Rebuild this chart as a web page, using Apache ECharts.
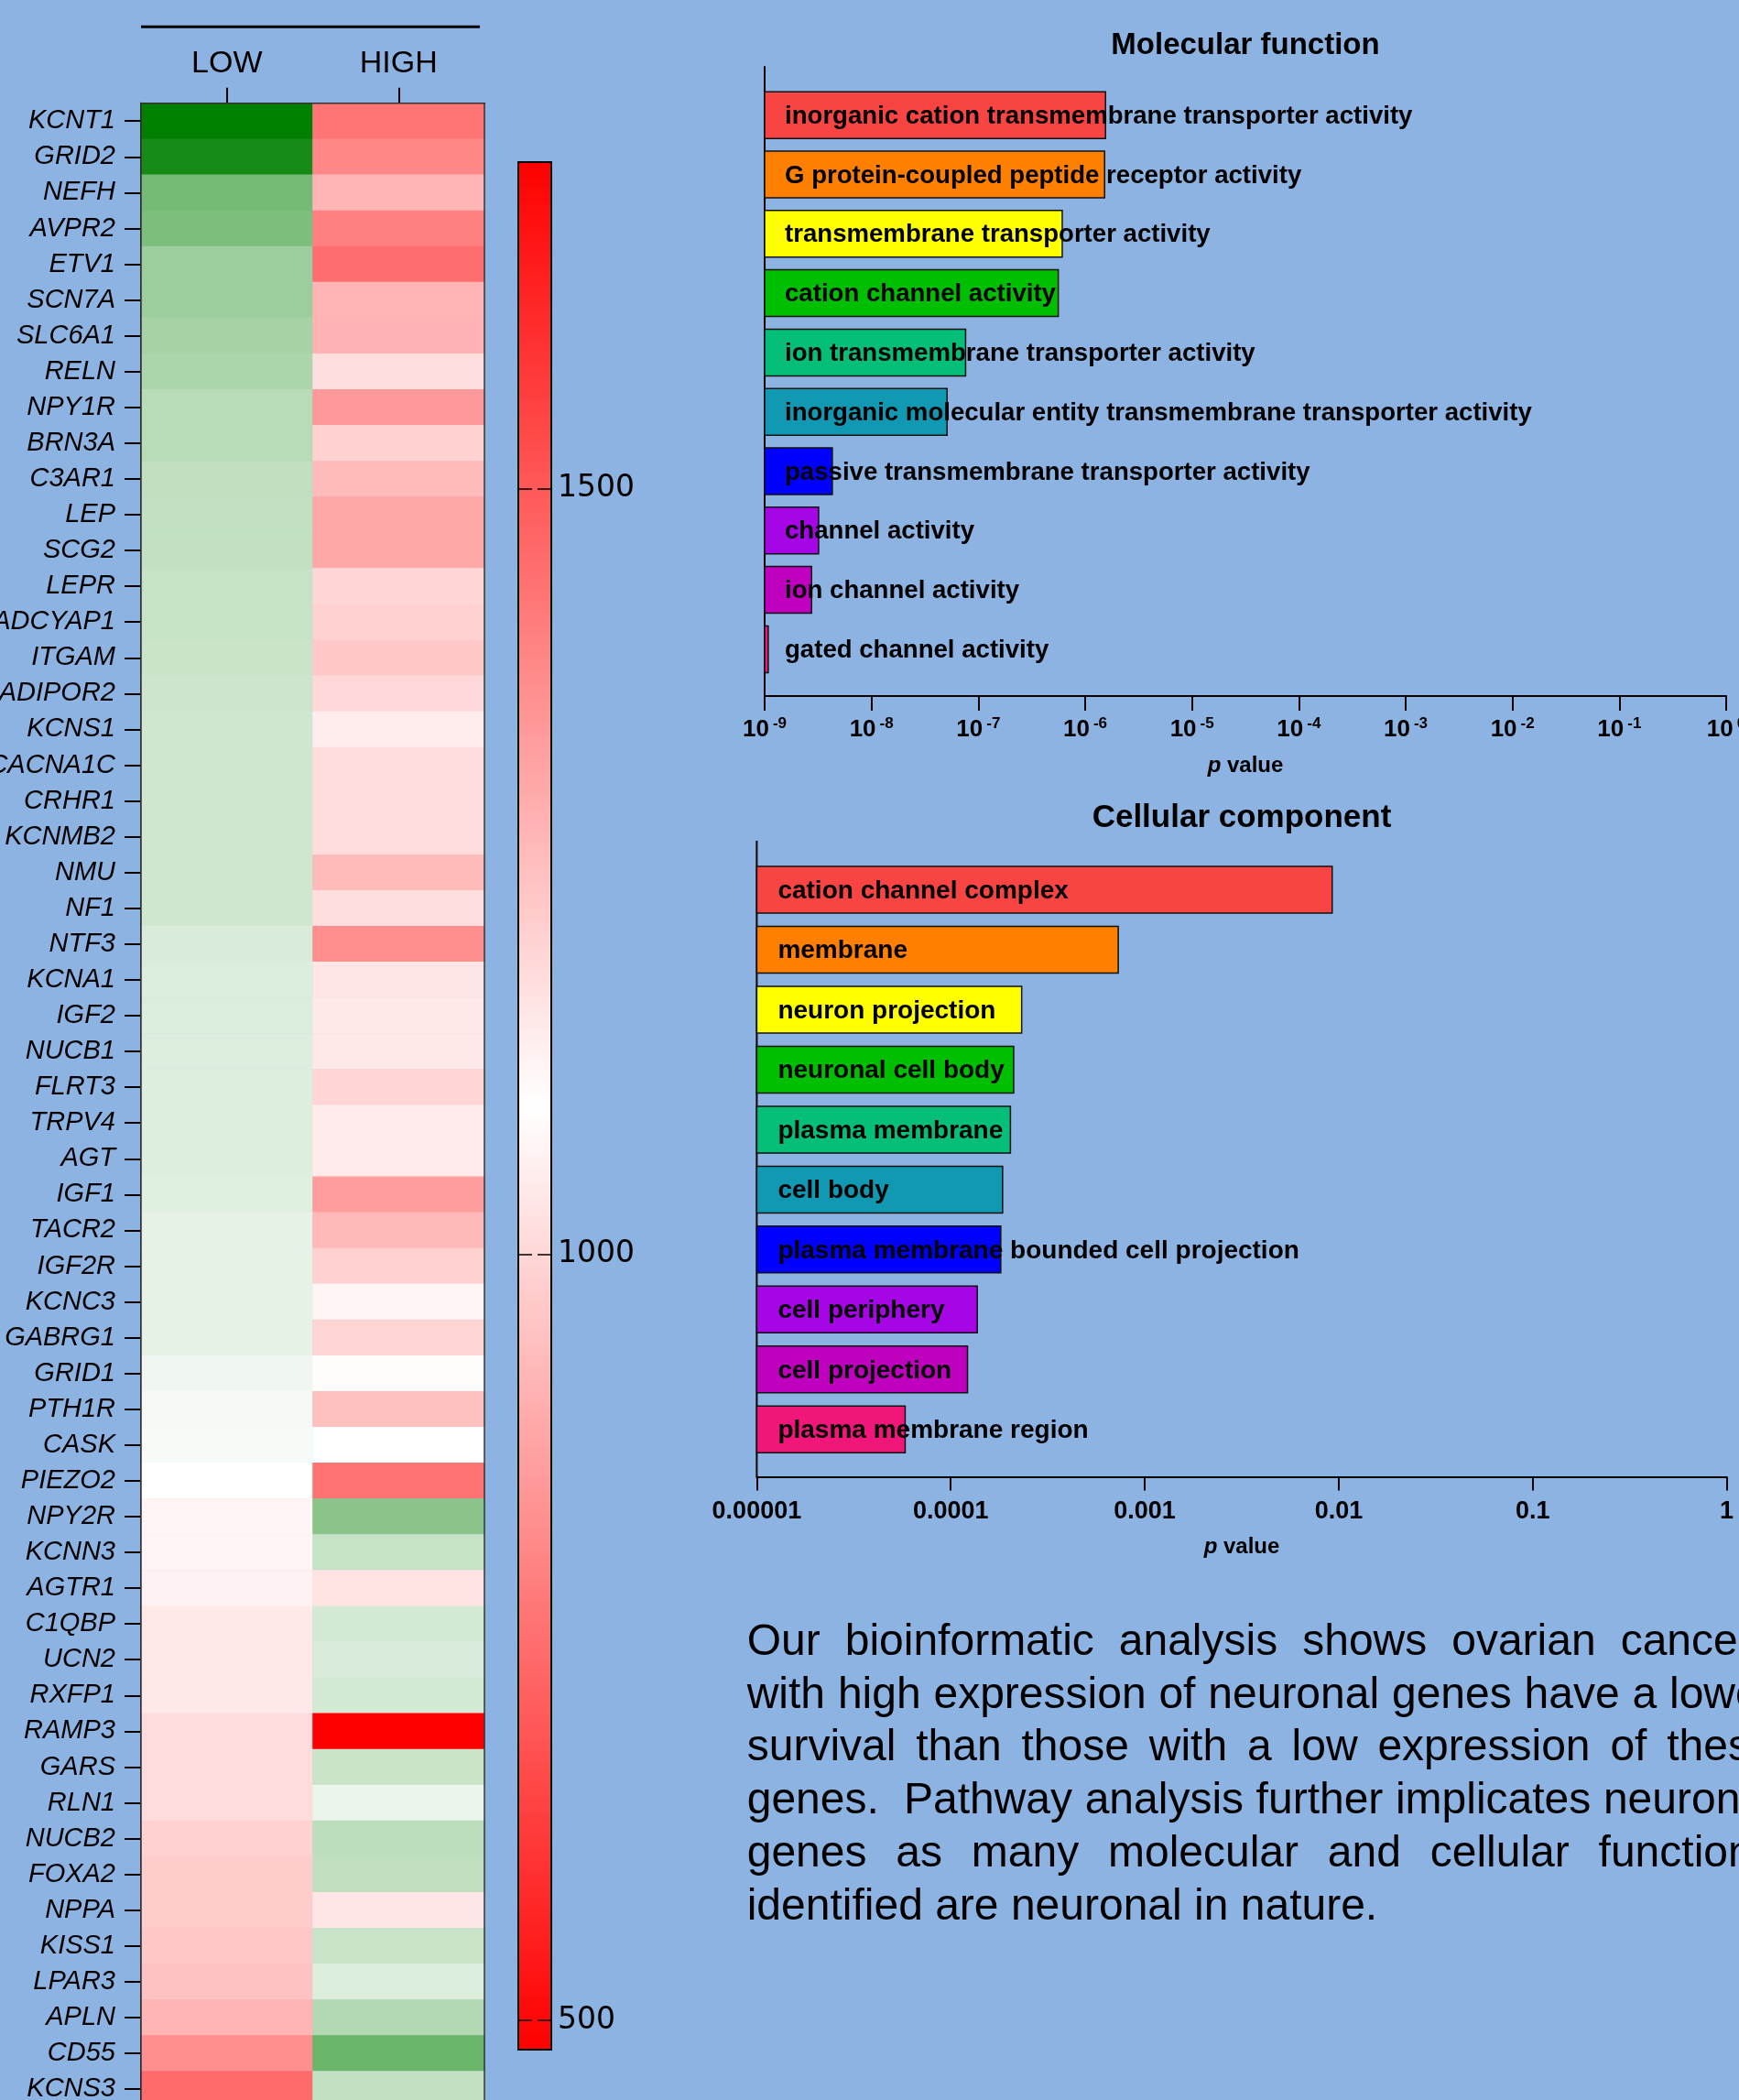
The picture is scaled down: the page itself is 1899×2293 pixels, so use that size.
<!DOCTYPE html>
<html>
<head>
<meta charset="utf-8">
<script src="https://cdn.jsdelivr.net/npm/echarts@6/dist/echarts.min.js"></script>
<style>
  html, body { margin: 0; padding: 0; background: #8DB3E2; }
  #chart { width: 1899px; height: 2293px; }
</style>
</head>
<body>
<div id="chart"></div>
<script>
// ---------- Heatmap: neuronal gene expression, LOW vs HIGH groups ----------
const groups = ['LOW', 'HIGH'];
const genes = [
  'KCNT1', 'GRID2', 'NEFH', 'AVPR2', 'ETV1', 'SCN7A', 'SLC6A1', 'RELN', 'NPY1R', 'BRN3A',
  'C3AR1', 'LEP', 'SCG2', 'LEPR', 'ADCYAP1', 'ITGAM', 'ADIPOR2', 'KCNS1', 'CACNA1C', 'CRHR1',
  'KCNMB2', 'NMU', 'NF1', 'NTF3', 'KCNA1', 'IGF2', 'NUCB1', 'FLRT3', 'TRPV4', 'AGT',
  'IGF1', 'TACR2', 'IGF2R', 'KCNC3', 'GABRG1', 'GRID1', 'PTH1R', 'CASK', 'PIEZO2', 'NPY2R',
  'KCNN3', 'AGTR1', 'C1QBP', 'UCN2', 'RXFP1', 'RAMP3', 'GARS', 'RLN1', 'NUCB2', 'FOXA2',
  'NPPA', 'KISS1', 'LPAR3', 'APLN', 'CD55', 'KCNS3'
];
// relative expression score: negative = green (down), positive = red (up)
const lowScores = [
  -100, -91, -54, -51, -39, -39, -35, -33, -28, -28,
  -25, -24, -24, -22, -22, -21, -20, -19, -19, -19,
  -19, -19, -19, -15, -14, -14, -13, -13, -13, -13,
  -12, -10, -10, -10, -10, -6, -4, -3, 0, 4,
  4, 5, 9, 9, 9, 14, 14, 14, 18, 20,
  20, 22, 24, 29, 44, 58
];
const highScores = [
  54, 47, 29, 50, 57, 29, 30, 13, 40, 18,
  27, 34, 34, 16, 18, 21, 15, 7, 14, 14,
  14, 27, 13, 44, 10, 9, 9, 16, 8, 8,
  39, 28, 18, 4, 17, 1, 25, 0, 55, -46,
  -22, 11, -17, -15, -17, 100, -21, -8, -26, -25,
  10, -21, -14, -30, -58, -24
];

// colour bar scale
const colorbarRange = [481, 1713];
const colorbarTicks = [500, 1000, 1500];

// ---------- GO enrichment: Molecular function ----------
const mfTerms = [
  'inorganic cation transmembrane transporter activity',
  'G protein-coupled peptide receptor activity',
  'transmembrane transporter activity',
  'cation channel activity',
  'ion transmembrane transporter activity',
  'inorganic molecular entity transmembrane transporter activity',
  'passive transmembrane transporter activity',
  'channel activity',
  'ion channel activity',
  'gated channel activity'
];
const mfPValues = [1.55e-6, 1.52e-6, 6.1e-7, 5.6e-7, 7.6e-8, 5.1e-8, 4.3e-9, 3.2e-9, 2.75e-9, 1.08e-9];
const mfColors = ['#f94444', '#ff8000', '#ffff00', '#00bf00', '#05bf78', '#1199b3', '#0000ff', '#a605e6', '#bf00bf', '#f0167a'];
const mfExponents = [-9, -8, -7, -6, -5, -4, -3, -2, -1, 0];

// ---------- GO enrichment: Cellular component ----------
const ccTerms = [
  'cation channel complex',
  'membrane',
  'neuron projection',
  'neuronal cell body',
  'plasma membrane',
  'cell body',
  'plasma membrane bounded cell projection',
  'cell periphery',
  'cell projection',
  'plasma membrane region'
];
const ccPValues = [0.00925, 0.00073, 0.000232, 0.000211, 0.000203, 0.000185, 0.000181, 0.000137, 0.000122, 0.0000582];
const ccColors = ['#f94444', '#ff8000', '#ffff00', '#00bf00', '#05bf78', '#1199b3', '#0000ff', '#a605e6', '#bf00bf', '#f0167a'];
const ccTickValues = [0.00001, 0.0001, 0.001, 0.01, 0.1, 1];
const ccTickLabels = ['0.00001', '0.0001', '0.001', '0.01', '0.1', '1'];

// ---------- Summary paragraph ----------
const summaryLines = [
  'Our bioinformatic analysis shows ovarian cancers',
  'with high expression of neuronal genes have a lower',
  'survival than those with a low expression of these',
  'genes.  Pathway analysis further implicates neuronal',
  'genes as many molecular and cellular functions',
  'identified are neuronal in nature.'
];

const FONT = '"Liberation Sans", Arial, sans-serif';
const BG = '#8DB3E2';

// heatmap cells
const heatData = [];
genes.forEach((g, i) => {
  heatData.push([0, i, lowScores[i]]);
  heatData.push([1, i, highScores[i]]);
});

// horizontal bars on a log axis, drawn from the axis minimum to the p value
function enrichmentBars(terms, colors, axisMin, labelGap, barHeight, fontSize) {
  return function (params, api) {
    const idx = api.value(1);
    const start = api.coord([axisMin, idx]);
    const end = api.coord([api.value(0), idx]);
    return {
      type: 'group',
      children: [
        {
          type: 'rect',
          shape: { x: start[0], y: start[1] - barHeight / 2, width: end[0] - start[0], height: barHeight },
          style: { fill: colors[idx], stroke: '#111', lineWidth: 1.5 }
        },
        {
          type: 'text',
          x: start[0] + labelGap,
          y: start[1] + 1.5,
          style: {
            text: terms[idx], fill: '#000', fontSize: fontSize, fontWeight: 'bold',
            fontFamily: FONT, align: 'left', verticalAlign: 'middle'
          }
        }
      ]
    };
  };
}

// justified paragraph, word by word
const measureCtx = document.createElement('canvas').getContext('2d');
const paraFontSize = 48;
measureCtx.font = paraFontSize + 'px "Liberation Sans"';
const paraLeft = 815.7, paraWidth = 1122, paraTop = 1793.5, paraLineHeight = 57.8;
const paraElements = [];
summaryLines.forEach((line, li) => {
  const words = line.split(' ');
  const widths = words.map(w => measureCtx.measureText(w).width);
  const total = widths.reduce((a, b) => a + b, 0);
  const isLast = li === summaryLines.length - 1;
  const gap = isLast ? measureCtx.measureText(' ').width : (paraWidth - total) / (words.length - 1);
  let x = paraLeft;
  words.forEach((w, wi) => {
    if (w) {
      paraElements.push({
        type: 'text', x: x, y: paraTop + li * paraLineHeight,
        style: { text: w, fill: '#000', fontSize: paraFontSize, fontFamily: FONT, align: 'left', verticalAlign: 'middle' }
      });
    }
    x += widths[wi] + gap;
  });
});

const pValueName = {
  name: '{i|p} {b|value}', nameLocation: 'middle', nameMoveOverlap: false,
  nameTextStyle: {
    fontSize: 24, fontWeight: 'bold', color: '#000',
    rich: {
      i: { fontSize: 24, fontWeight: 'bold', fontStyle: 'italic', color: '#000', fontFamily: FONT },
      b: { fontSize: 24, fontWeight: 'bold', color: '#000', fontFamily: FONT }
    }
  }
};

const chart = echarts.init(document.getElementById('chart'), null, { renderer: 'canvas' });

const option = {
  backgroundColor: BG,
  animation: false,
  textStyle: { fontFamily: FONT },
  grid: [
    { left: 154, top: 112.7, width: 375, height: 2187.9, show: true, borderColor: '#333', borderWidth: 1.5, backgroundColor: 'transparent', z: 3, outerBoundsMode: 'none' },
    { left: 566, top: 177, width: 36, height: 2061, show: true, borderColor: '#000', borderWidth: 2, backgroundColor: 'transparent', z: 5, outerBoundsMode: 'none' },
    { left: 835, top: 93.3, width: 1050, height: 648, outerBoundsMode: 'none' },
    { left: 826.4, top: 938.8, width: 1059.2, height: 654.7, outerBoundsMode: 'none' }
  ],
  xAxis: [
    {
      type: 'category', gridIndex: 0, data: groups, position: 'top',
      axisLine: { show: true, lineStyle: { color: '#000', width: 2 } },
      axisTick: { show: true, alignWithLabel: true, length: 17, lineStyle: { color: '#000', width: 2 } },
      axisLabel: { color: '#000', fontSize: 34, margin: 26, fontFamily: FONT },
      splitLine: { show: false }
    },
    { type: 'value', gridIndex: 1, min: 0, max: 1, show: false },
    Object.assign({
      type: 'log', gridIndex: 2, logBase: 10, min: 1e-9, max: 1, offset: 18.7,
      axisLine: { show: true, lineStyle: { color: '#000', width: 2 } },
      axisTick: { show: true, customValues: mfExponents.map(e => Math.pow(10, e)), length: 16, lineStyle: { color: '#000', width: 2 } },
      axisLabel: {
        show: true,
        customValues: mfExponents.map(e => Math.pow(10, e)),
        margin: 22,
        formatter: v => '{b|10}{s|' + mfExponents[Math.round(Math.log10(v)) + 9] + '}',
        rich: {
          b: { fontSize: 26, fontWeight: 'bold', color: '#000', lineHeight: 30, fontFamily: FONT },
          s: { fontSize: 17, fontWeight: 'bold', color: '#000', verticalAlign: 'top', lineHeight: 17, padding: [0, 0, 0, 4], fontFamily: FONT }
        }
      },
      minorTick: { show: false },
      splitLine: { show: false },
      nameGap: 64
    }, pValueName),
    Object.assign({
      type: 'log', gridIndex: 3, logBase: 10, min: 0.00001, max: 1, offset: 19.1,
      axisLine: { show: true, lineStyle: { color: '#000', width: 2 } },
      axisTick: { show: true, customValues: ccTickValues, length: 15, lineStyle: { color: '#000', width: 2 } },
      axisLabel: {
        show: true,
        customValues: ccTickValues,
        margin: 24,
        formatter: v => ccTickLabels[Math.round(Math.log10(v)) + 5],
        fontSize: 27, fontWeight: 'bold', color: '#000', fontFamily: FONT
      },
      minorTick: { show: false },
      splitLine: { show: false },
      nameGap: 65
    }, pValueName)
  ],
  yAxis: [
    {
      type: 'category', gridIndex: 0, data: genes, inverse: true,
      axisLine: { show: true, lineStyle: { color: '#000', width: 2 } },
      axisTick: { show: true, alignWithLabel: true, length: 18, lineStyle: { color: '#000', width: 2 } },
      axisLabel: { interval: 0, color: '#000', fontSize: 29, fontStyle: 'italic', margin: 28, fontFamily: FONT },
      splitLine: { show: false }
    },
    {
      type: 'value', gridIndex: 1, position: 'right', min: colorbarRange[0], max: colorbarRange[1], z: 6,
      axisLine: { show: false },
      axisTick: { show: false },
      axisLabel: {
        show: true, customValues: colorbarTicks, formatter: v => String(v),
        color: '#000', fontSize: 33, margin: 7, padding: [6, 0, 0, 0], fontFamily: '"DejaVu Sans", sans-serif'
      },
      splitLine: { show: false }
    },
    {
      type: 'category', gridIndex: 2, data: mfTerms, inverse: true,
      axisLine: { show: false }, axisTick: { show: false }, axisLabel: { show: false }, splitLine: { show: false }
    },
    {
      type: 'category', gridIndex: 3, data: ccTerms, inverse: true,
      axisLine: { show: false }, axisTick: { show: false }, axisLabel: { show: false }, splitLine: { show: false }
    }
  ],
  visualMap: [
    {
      type: 'continuous', show: false, seriesIndex: 0, min: -100, max: 100,
      inRange: { color: ['#007f00', '#ffffff', '#ff0000'] }
    },
    {
      type: 'continuous', show: true, seriesIndex: 3,
      min: colorbarRange[0], max: colorbarRange[1],
      inRange: { color: ['#ff0000', '#ffffff', '#ff0000'] },
      calculable: false, hoverLink: false, text: null, showLabel: false,
      left: 566, top: 177, itemWidth: 36, itemHeight: 2061, padding: 0, z: 1
    }
  ],
  graphic: {
    elements: [
      { type: 'line', shape: { x1: 154, y1: 29.3, x2: 524, y2: 29.3 }, style: { stroke: '#000', lineWidth: 3 } },
      { type: 'line', shape: { x1: 835, y1: 72.3, x2: 835, y2: 760 }, style: { stroke: '#000', lineWidth: 2 } },
      { type: 'line', shape: { x1: 826.4, y1: 918, x2: 826.4, y2: 1612.6 }, style: { stroke: '#000', lineWidth: 2 } },
      {
        type: 'text', x: 1360, y: 50,
        style: { text: 'Molecular function', fill: '#000', fontSize: 33, fontWeight: 'bold', fontFamily: FONT, align: 'center', verticalAlign: 'middle' }
      },
      {
        type: 'text', x: 1356, y: 893,
        style: { text: 'Cellular component', fill: '#000', fontSize: 35, fontWeight: 'bold', fontFamily: FONT, align: 'center', verticalAlign: 'middle' }
      }
    ].concat(paraElements)
  },
  series: [
    {
      type: 'heatmap', xAxisIndex: 0, yAxisIndex: 0, data: heatData,
      itemStyle: { borderWidth: 0 }, emphasis: { disabled: true }
    },
    {
      type: 'custom', xAxisIndex: 2, yAxisIndex: 2,
      data: mfPValues.map((p, i) => [p, i]),
      encode: { x: 0, y: 1 },
      renderItem: enrichmentBars(mfTerms, mfColors, 1e-9, 22, 51, 27.6)
    },
    {
      type: 'custom', xAxisIndex: 3, yAxisIndex: 3,
      data: ccPValues.map((p, i) => [p, i]),
      encode: { x: 0, y: 1 },
      renderItem: enrichmentBars(ccTerms, ccColors, 0.00001, 23, 51, 28)
    },
    {
      // colour-bar scale holder: dashed tick marks across the bar
      type: 'scatter', xAxisIndex: 1, yAxisIndex: 1, data: [], silent: true,
      markLine: {
        silent: true, symbol: ['none', 'none'], animation: false,
        label: { show: false },
        lineStyle: { color: '#000', width: 1.5, type: [15, 6] },
        data: colorbarTicks.map(v => ({ yAxis: v }))
      }
    }
  ]
};

chart.setOption(option);
</script>
</body>
</html>
